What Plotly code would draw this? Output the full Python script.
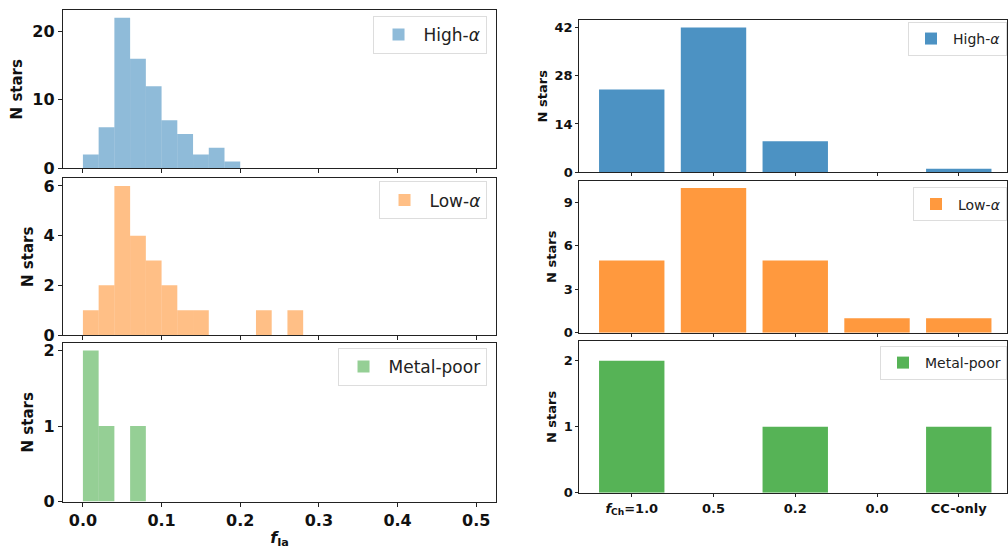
import plotly.graph_objects as go

# ---- data ----
bin_edges = [0.00, 0.02, 0.04, 0.06, 0.08, 0.10, 0.12, 0.14, 0.16, 0.18, 0.20, 0.22, 0.24, 0.26, 0.28]
hist_high = [2, 6, 22, 16, 12, 7, 5, 2, 3, 1, 0, 0, 0, 0]
hist_low = [1, 2, 6, 4, 3, 2, 1, 1, 0, 0, 0, 1, 0, 1]
hist_mp = [2, 1, 0, 1, 0, 0, 0, 0, 0, 0, 0, 0, 0, 0]

fch_labels = ["<i>f</i><sub>Ch</sub>=1.0", "0.5", "0.2", "0.0", "CC-only"]
bar_high = [24, 42, 9, 0, 1]
bar_low = [5, 10, 5, 1, 1]
bar_mp = [2, 0, 1, 0, 1]

left_xticks = [0.0, 0.1, 0.2, 0.3, 0.4, 0.5]

centers = [(a + b) / 2 for a, b in zip(bin_edges[:-1], bin_edges[1:])]
widths = [b - a for a, b in zip(bin_edges[:-1], bin_edges[1:])]
cat_x = list(range(len(fch_labels)))

W, H = 1008, 549
H_EFF = H * 0.981  # measured vertical rendering scale
def py(px):
    return 1 - px / H_EFF

FONT = "DejaVu Sans"
AX = "#222"

fig = go.Figure()

left_specs = [
    ("High-<i>α</i>", hist_high, "rgba(31,119,180,0.5)", "", "legend", (8.3, 166.7), [0, 23.1], [0, 10, 20], 14),
    ("Low-<i>α</i>", hist_low, "rgba(255,127,14,0.5)", "2", "legend2", (177, 334), [0, 6.3], [0, 2, 4, 6], 180),
    ("Metal-poor", hist_mp, "rgba(44,160,44,0.5)", "3", "legend3", (342, 501), [0, 2.1], [0, 1, 2], 347),
]
right_specs = [
    ("High-<i>α</i>", bar_high, "rgba(31,119,180,0.8)", "4", "legend4", (18.3, 170.7), [0, 44.1], [0, 14, 28, 42], 20),
    ("Low-<i>α</i>", bar_low, "rgba(255,127,14,0.8)", "5", "legend5", (179.3, 331.7), [0, 10.5], [0, 3, 6, 9], 186),
    ("Metal-poor", bar_mp, "rgba(44,160,44,0.8)", "6", "legend6", (340, 492.3), [0, 2.3], [0, 1, 2], 345),
]

layout = dict(
    width=W, height=H, autosize=False,
    margin=dict(l=0, r=0, t=0, b=0),
    paper_bgcolor="white", plot_bgcolor="white",
    showlegend=True, barmode="overlay",
    font=dict(family=FONT, color="#111"),
)

for i, (name, vals, col, ax, leg, (ytop, ybot), yr, yt, legy) in enumerate(left_specs):
    fig.add_trace(go.Bar(x=centers, y=vals, width=widths, name=name,
                         marker=dict(color=col, line=dict(width=0)),
                         xaxis="x" + ax, yaxis="y" + ax, legend=leg))
    last = (i == 2)
    layout["xaxis" + ax] = dict(domain=[63 / W, 496.7 / W], range=[-0.0254, 0.5254],
                                anchor="y" + ax, tickvals=left_xticks,
                                ticktext=[f"{v:.1f}" for v in left_xticks],
                                showticklabels=last, ticks="outside", ticklen=4, tickcolor=AX,
                                showline=True, mirror=True, linecolor=AX, linewidth=1.3,
                                showgrid=False, zeroline=False,
                                tickfont=dict(family=FONT, size=16, weight="bold", color="#111"),
                                title=dict(text="<i>f</i><sub>Ia</sub>" if last else "",
                                           font=dict(family=FONT, size=16, weight="bold"), standoff=8))
    layout["yaxis" + ax] = dict(domain=[py(ybot), py(ytop)], range=yr, anchor="x" + ax,
                                tickvals=yt, ticks="outside", ticklen=4, tickcolor=AX,
                                showline=True, mirror=True, linecolor=AX, linewidth=1.3,
                                showgrid=False, zeroline=False,
                                tickfont=dict(family=FONT, size=16, weight="bold", color="#111"),
                                title=dict(text="N stars", font=dict(family=FONT, size=15, weight="bold"),
                                           standoff=6))
    layout[leg] = dict(x=487 / W, xanchor="right", y=py(legy), yanchor="top",
                       bgcolor="white", bordercolor="#ddd", borderwidth=1,
                       font=dict(family=FONT, size=17, color="#222"), itemwidth=40)

for i, (name, vals, col, ax, leg, (ytop, ybot), yr, yt, legy) in enumerate(right_specs):
    fig.add_trace(go.Bar(x=cat_x, y=vals, width=0.8, name=name,
                         marker=dict(color=col, line=dict(width=0)),
                         xaxis="x" + ax, yaxis="y" + ax, legend=leg))
    last = (i == 2)
    layout["xaxis" + ax] = dict(domain=[580 / W, 1.0], range=[-0.64, 4.59],
                                anchor="y" + ax, tickvals=cat_x, ticktext=fch_labels,
                                showticklabels=last, ticks="outside", ticklen=3, tickcolor=AX,
                                showline=True, mirror=True, linecolor=AX, linewidth=1.3,
                                showgrid=False, zeroline=False,
                                tickfont=dict(family=FONT, size=13, weight="bold", color="#111"))
    layout["yaxis" + ax] = dict(domain=[py(ybot), py(ytop)], range=yr, anchor="x" + ax,
                                tickvals=yt, ticks="outside", ticklen=3, tickcolor=AX,
                                showline=True, mirror=True, linecolor=AX, linewidth=1.3,
                                showgrid=False, zeroline=False,
                                tickfont=dict(family=FONT, size=13, weight="bold", color="#111"),
                                title=dict(text="N stars", font=dict(family=FONT, size=13, weight="bold"),
                                           standoff=4))
    layout[leg] = dict(x=1.0, xanchor="right", y=py(legy), yanchor="top",
                       bgcolor="white", bordercolor="#ddd", borderwidth=1,
                       font=dict(family=FONT, size=14, color="#222"), itemwidth=34)

fig.update_layout(**layout)
fig.write_html("out.html", config={"displayModeBar": False, "responsive": False},
               post_script="document.body.style.margin='0';document.body.style.overflow='hidden';")
